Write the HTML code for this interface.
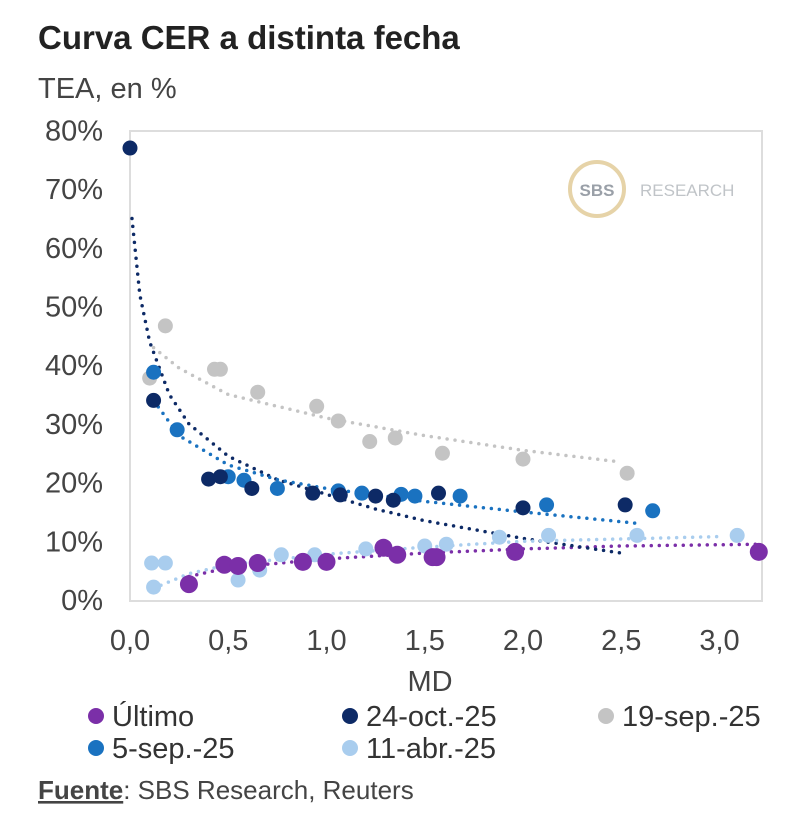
<!DOCTYPE html>
<html><head><meta charset="utf-8"><style>
body{margin:0;width:800px;height:832px;background:#fff;font-family:"Liberation Sans",sans-serif;overflow:hidden}
</style></head><body>
<svg width="800" height="832" xmlns="http://www.w3.org/2000/svg">
<text x="38" y="49" font-size="33" font-weight="bold" fill="#222">Curva CER a distinta fecha</text>
<text x="38" y="98" font-size="29" fill="#444">TEA, en %</text>
<rect x="130" y="131" width="632" height="470" fill="none" stroke="#ddd" stroke-width="2"/>
<g>
<circle cx="597" cy="189" r="27" fill="none" stroke="#e6d3a8" stroke-width="4"/>
<text x="597" y="196" font-size="17" font-weight="bold" fill="#9aa0a8" text-anchor="middle">SBS</text>
<text x="640" y="196" font-size="17" fill="#c0c4c8">RESEARCH</text>
</g>
<g id="axes"></g>
<g id="trends"></g>
<g id="marks"></g>
<text x="430" y="691" font-size="29" fill="#444" text-anchor="middle">MD</text>
<g id="legend"></g>
<text x="38" y="799" font-size="26" fill="#444"><tspan font-weight="bold" text-decoration="underline">Fuente</tspan>: SBS Research, Reuters</text>
</svg>
<script>
const xTicks=[0,0.5,1,1.5,2,2.5,3];
const yTicks=[0,10,20,30,40,50,60,70,80];
const seriesNames=["Último","24-oct.-25","19-sep.-25","5-sep.-25","11-abr.-25"];
const seriesColors=["#7b2fa8","#0d2a66","#c4c4c4","#1a72c0","#a9cdee"];
const ultX=[0.3,0.48,0.55,0.65,0.88,1.0,1.29,1.36,1.54,1.56,1.96,3.2];
const ultY=[2.7,6,5.8,6.3,6.5,6.5,8.9,7.7,7.3,7.3,8.2,8.2];
const octX=[0.0,0.12,0.4,0.46,0.62,0.93,1.07,1.25,1.34,1.57,2.0,2.52];
const octY=[77,34,20.6,21,19,18.2,17.9,17.7,17,18.2,15.7,16.2];
const sep19X=[0.1,0.18,0.43,0.46,0.65,0.95,1.06,1.22,1.35,1.59,2.0,2.53];
const sep19Y=[37.8,46.7,39.3,39.3,35.4,33,30.5,27,27.6,25,24,21.6];
const sep5X=[0.12,0.24,0.5,0.58,0.75,1.06,1.18,1.38,1.45,1.68,2.12,2.66];
const sep5Y=[38.8,29,21,20.4,19,18.6,18.2,18,17.7,17.7,16.2,15.2];
const abrX=[0.11,0.18,0.12,0.55,0.66,0.77,0.94,1.2,1.5,1.61,1.88,2.13,2.58,3.09];
const abrY=[6.3,6.3,2.2,3.4,5.1,7.7,7.7,8.7,9.2,9.5,10.7,11,11,11];
const trendOctX=[0.01,0.05,0.1,0.2,0.3,0.5,0.75,1,1.25,1.5,2,2.5];
const trendOctY=[65,52,44,35,30,24.5,20.5,18,15.5,13.5,10.5,8];
const trendSep5X=[0.12,0.25,0.5,0.75,1,1.5,2,2.6];
const trendSep5Y=[34,28,23,20.5,19,16.8,15,13];
const trendSep19X=[0.12,0.25,0.5,1,1.5,2,2.5];
const trendSep19Y=[43,39.5,35,31,28,25.5,23.5];
const trendAbrX=[0.12,0.3,0.5,1,1.5,2,3];
const trendAbrY=[2,4.5,6,7.8,9,10,10.8];
const trendUltX=[0.3,0.5,1,1.5,2,2.5,3.2];
const trendUltY=[4,5.5,7,8,8.7,9.2,9.5];

const NS="http://www.w3.org/2000/svg";
const X=v=>130+v*196.5;
const Y=v=>600-v*5.87;
function mk(tag,attrs,parent){const e=document.createElementNS(NS,tag);for(const k in attrs)e.setAttribute(k,attrs[k]);parent.appendChild(e);return e;}
const axes=document.getElementById('axes');
xTicks.forEach(t=>{const e=mk('text',{x:X(t),y:650,'font-size':29,fill:'#444','text-anchor':'middle'},axes);e.textContent=t.toFixed(1).replace('.',',');

});
yTicks.forEach(t=>{const e=mk('text',{x:103,y:Y(t)+10,'font-size':29,fill:'#444','text-anchor':'end'},axes);e.textContent=t+'%';

});
const trends=document.getElementById('trends');
const tr=[[trendUltX,trendUltY,0],[trendOctX,trendOctY,1],[trendSep19X,trendSep19Y,2],[trendSep5X,trendSep5Y,3],[trendAbrX,trendAbrY,4]];
tr.forEach(([xs,ys,i])=>{const d=xs.map((x,j)=>(j?'L':'M')+X(x)+','+Y(ys[j])).join(' ');
const p=mk('path',{d:d,fill:'none',stroke:seriesColors[i],'stroke-width':3.5,'stroke-linecap':'round','stroke-dasharray':'0 8'},trends);

});
const marks=document.getElementById('marks');
const ser=[[abrX,abrY,4],[sep19X,sep19Y,2],[sep5X,sep5Y,3],[octX,octY,1],[ultX,ultY,0]];
ser.forEach(([xs,ys,i])=>{xs.forEach((x,j)=>{const c=mk('circle',{cx:X(x),cy:Y(ys[j]),r:i==0?9:7.5,fill:seriesColors[i]},marks);

});});
const lg=document.getElementById('legend');
const lpos=[[96,726],[350,726],[606,726],[96,758],[350,758]];
seriesNames.forEach((n,i)=>{const g=mk('g',{},lg);


mk('circle',{cx:lpos[i][0],cy:lpos[i][1]-10,r:8,fill:seriesColors[i]},g);
const t=mk('text',{x:lpos[i][0]+16,y:lpos[i][1],'font-size':29,fill:'#333'},g);t.textContent=n;});
</script>
</body></html>
